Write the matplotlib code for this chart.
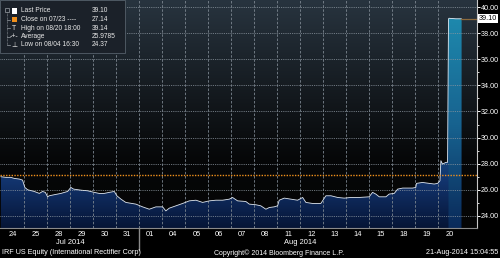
import numpy as np
import matplotlib
matplotlib.use("Agg")
import matplotlib.pyplot as plt
from matplotlib.colors import LinearSegmentedColormap
from matplotlib.patches import Rectangle
from matplotlib.lines import Line2D

# trading days shown on the x axis (one slot per day)
day_labels = ['24', '25', '28', '29', '30', '31', '01', '04', '05', '06',
              '07', '08', '11', '12', '13', '14', '15', '18', '19', '20']
months = ['Jul 2014', 'Aug 2014']
month_days = [6, 14]   # number of days belonging to each month

# intraday price, position given in day slots (0 = start of Jul 24)
t_pos = [0.00, 0.22, 0.43, 0.58, 0.80, 0.94, 1.04, 1.16, 1.45, 1.67,
         1.81, 1.93, 2.03, 2.10, 2.32, 2.61, 2.90, 3.04, 3.16, 3.48,
         3.77, 4.06, 4.27, 4.49, 4.71, 4.93, 5.04, 5.22, 5.43, 5.87,
         6.16, 6.45, 6.74, 7.03, 7.17, 7.32, 7.61, 7.90, 8.19, 8.48,
         8.77, 9.06, 9.35, 9.64, 9.93, 10.07, 10.29, 10.65, 10.80, 11.09,
         11.30, 11.52, 11.67, 11.88, 12.03, 12.10, 12.32, 12.61, 12.90, 13.12,
         13.26, 13.55, 13.91, 14.13, 14.35, 14.64, 14.93, 15.22, 15.58, 16.01,
         16.16, 16.30, 16.45, 16.74, 16.88, 17.10, 17.25, 17.47, 17.90, 18.04,
         18.07, 18.33, 18.62, 18.84, 18.99, 19.09, 19.13, 19.20, 19.35, 19.42,
         19.46, 19.48, 19.78, 20.02]
price = [27.00, 26.95, 26.95, 26.87, 26.82, 26.74, 26.18, 26.00, 25.87, 25.72,
         25.87, 25.80, 25.46, 25.54, 25.62, 25.72, 25.87, 26.18, 26.05, 25.97,
         25.92, 25.80, 25.72, 25.72, 25.80, 25.87, 25.54, 25.28, 25.03, 24.90,
         24.69, 24.51, 24.69, 24.69, 24.38, 24.59, 24.77, 24.95, 25.15, 25.20,
         25.03, 25.15, 25.20, 25.20, 25.28, 25.41, 25.15, 25.10, 24.90, 24.85,
         24.77, 24.51, 24.64, 24.69, 24.77, 25.20, 25.36, 25.28, 25.20, 25.41,
         25.03, 24.95, 24.95, 25.54, 25.54, 25.41, 25.36, 25.41, 25.41, 25.46,
         25.80, 25.67, 25.46, 25.46, 25.67, 25.72, 26.05, 26.13, 26.13, 26.18,
         26.49, 26.56, 26.49, 26.44, 26.49, 26.69, 28.23, 27.97, 28.10, 28.10,
         39.08, 39.14, 39.10, 39.10]
spike_start = 90   # first point of the Aug 20 jump

last_price = 39.10
prev_close = 27.14
legend_rows = [('Last Price', '39.10'),
               ('Close on 07/23 ----', '27.14'),
               ('High on 08/20 18:00', '39.14'),
               ('Average', '25.9785'),
               ('Low on 08/04 16:30', '24.37')]

plt.rcParams['font.family'] = ['Liberation Sans Narrow', 'Liberation Sans', 'DejaVu Sans']

W, H = 500, 258
def fx(x):
    return x / W
def fy(y):
    return 1 - y / H

fig = plt.figure(figsize=(5, 2.58), dpi=100, facecolor='black')
ax = fig.add_axes([0, 1 - 228 / H, 477 / W, 228 / H])
x0, x1 = -0.04, 20.7
y0, y1 = 23.07, 40.54
ax.set_xlim(x0, x1)
ax.set_ylim(y0, y1)
ax.set_facecolor('black')

# background fade (grey-blue on top, black lower down)
bg = LinearSegmentedColormap.from_list('bg', [(0, '#050505'), (0.3, '#060708'), (1, '#28343f')])
grad = np.linspace(0, 1, 256).reshape(-1, 1)
ax.imshow(grad, cmap=bg, origin='lower', extent=[x0, x1, y0, y1], aspect='auto', zorder=0)

# area under the price, gradient fill
fillmap = LinearSegmentedColormap.from_list('area', [(0, '#061536'), (0.2, '#12336c'),
                                                      (0.5, '#186496'), (1, '#239ec2')])
poly = ax.fill_between(t_pos, price, y0, facecolor='none', edgecolor='none')
im = ax.imshow(grad, cmap=fillmap, origin='lower', extent=[x0, x1, y0, y1], aspect='auto', zorder=1)
im.set_clip_path(poly.get_paths()[0], ax.transData)

spikemap = LinearSegmentedColormap.from_list('spike', [(0, '#0a2a5a'), (0.45, '#17628f'),
                                                        (1, '#1f8fb2')])
poly2 = ax.fill_between(t_pos[spike_start:], price[spike_start:], y0, facecolor='none', edgecolor='none')
im2 = ax.imshow(grad, cmap=spikemap, origin='lower', extent=[x0, x1, y0, y1], aspect='auto', zorder=1.5)
im2.set_clip_path(poly2.get_paths()[0], ax.transData)

# grid
ax.set_yticks(np.arange(24, 41, 2))
ax.set_yticks(np.arange(25, 40, 2), minor=True)
ax.yaxis.set_major_formatter(matplotlib.ticker.FormatStrFormatter('%.2f'))
for v in np.arange(24, 41, 2):
    ax.axhline(v, color='#8c96a0', lw=0.6, ls=(0, (1, 1.2)), zorder=2)
for d in range(1, len(day_labels)):
    ax.axvline(d, color='#7c8690', lw=0.6, ls=(0, (3, 2)), zorder=2)

ax.plot(t_pos, price, color='#dfe6ee', lw=0.6, zorder=4)
ax.axhline(prev_close, color='#f0901c', lw=1.0, ls=(0, (1, 1)), zorder=4)
ax.plot([t_pos[-1], x1], [last_price, last_price], color='#8c6a3c', lw=0.9, zorder=4)

ax.set_xticks(np.arange(len(day_labels)) + 0.5)
ax.set_xticklabels(day_labels)
ax.tick_params(axis='x', length=0, colors='white', labelsize=5.4, pad=2.5)
ax.yaxis.tick_right()
ax.tick_params(axis='y', which='major', direction='out', length=2, width=0.7,
               colors='white', labelsize=5.2, pad=0.8)
ax.tick_params(axis='y', which='minor', direction='out', length=1.3, width=0.6, colors='white')
for s in ['top', 'left']:
    ax.spines[s].set_visible(False)
ax.spines['right'].set_color('#c8c8c8')
ax.spines['right'].set_linewidth(0.8)
ax.spines['bottom'].set_color('#8a8a8a')
ax.spines['bottom'].set_linewidth(0.8)

ax.annotate('%.2f' % last_price, xy=(1, last_price), xycoords=('axes fraction', 'data'),
            xytext=(1.6, 0), textcoords='offset points', ha='left', va='center',
            fontsize=5.2, color='black',
            bbox=dict(boxstyle='square,pad=0.12', fc='white', ec='none'))

# month labels under the day ticks
start = 0
for name, n in zip(months, month_days):
    mid = 1 + 23 * (start + n / 2)
    fig.text(fx(mid), fy(243), name, ha='center', va='center', color='white', fontsize=5.4)
    start += n
fig.lines.append(Line2D([fx(139), fx(139)], [fy(228), fy(250)], transform=fig.transFigure,
                        color='#8a8a8a', lw=1.0))

fig.text(fx(2), fy(253), 'IRF US Equity (International Rectifier Corp)', ha='left',
         va='center', color='white', fontsize=5.2)
fig.text(fx(279), fy(253), 'Copyright\u00a9 2014 Bloomberg Finance L.P.', ha='center',
         va='center', color='white', fontsize=5.0)
fig.text(fx(498), fy(253), '21-Aug-2014 15:04:55', ha='right', va='center',
         color='white', fontsize=5.2)

# legend box top left
fig.patches.append(Rectangle((0, fy(53)), fx(125), 53 / H, transform=fig.transFigure,
                             facecolor='#1b2129', edgecolor='#55606a', lw=0.6, zorder=5))
rows_y = [11, 19.5, 28, 36.5, 45]
fig.lines.append(Line2D([fx(7), fx(7)], [fy(12), fy(45)], transform=fig.transFigure,
                        color='#9aa0a6', lw=0.5, ls=(0, (1, 1)), zorder=6))
fig.patches.append(Rectangle((fx(5), fy(12)), fx(4), 4 / H, transform=fig.transFigure,
                             facecolor='none', edgecolor='#9aa0a6', lw=0.5, zorder=6))
for ry in rows_y[1:]:
    fig.lines.append(Line2D([fx(7), fx(10)], [fy(ry), fy(ry)], transform=fig.transFigure,
                            color='#9aa0a6', lw=0.5, zorder=6))
fig.patches.append(Rectangle((fx(12), fy(rows_y[0]) - 2.5 / H), fx(5), 5 / H,
                             transform=fig.transFigure, facecolor='white', edgecolor='none', zorder=6))
fig.patches.append(Rectangle((fx(12), fy(rows_y[1]) - 2.5 / H), fx(5), 5 / H,
                             transform=fig.transFigure, facecolor='#f0901c', edgecolor='none', zorder=6))
fig.text(fx(14.5), fy(rows_y[2]), 'T', ha='center', va='center', color='#e8e8e8', fontsize=5.0, zorder=7)
fig.text(fx(14.5), fy(rows_y[3]), '-+-', ha='center', va='center', color='#e8e8e8', fontsize=5.0, zorder=7)
fig.text(fx(14.5), fy(rows_y[4]), '\u22a5', ha='center', va='center', color='#e8e8e8', fontsize=5.0,
         family=['DejaVu Sans'], zorder=7)
for (name, val), ry in zip(legend_rows, rows_y):
    fig.text(fx(21), fy(ry), name, ha='left', va='center', color='#e8e8e8', fontsize=4.8, zorder=7)
    fig.text(fx(92), fy(ry), val, ha='left', va='center', color='#e8e8e8', fontsize=4.8, zorder=7)

fig.savefig('out.png', dpi=100, facecolor='black')
